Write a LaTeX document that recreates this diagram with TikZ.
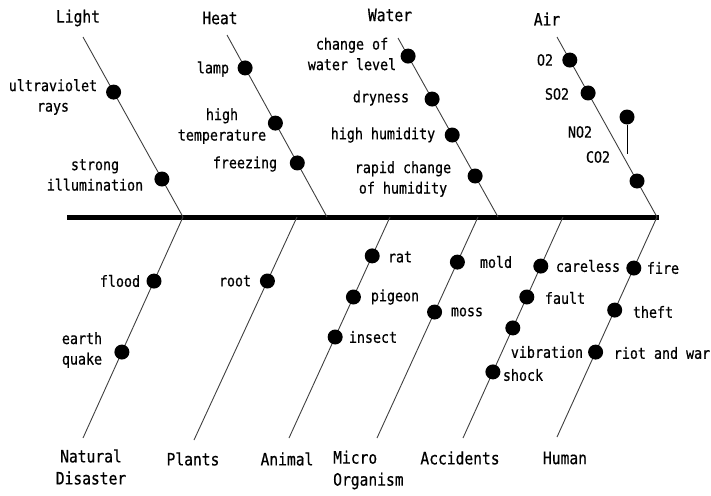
\documentclass[tikz,border=0pt]{standalone}
\usepackage{fontspec}
\newfontfamily\lblfont[FakeStretch=0.86,FakeBold=0.6]{DejaVu Sans Mono}
\usetikzlibrary{calc}
\begin{document}
\begin{tikzpicture}[x=1pt,y=-1pt,
  bone/.style={draw=black!75, line width=0.9pt},
  spine/.style={draw=black, line width=5pt},
  dot/.style={circle, fill=black, inner sep=0pt, minimum size=15pt},
  lbl/.style={font=\lblfont\fontsize{15.5}{20.5}\selectfont, inner sep=0pt, align=center},
  cat/.style={font=\lblfont\fontsize{17}{22}\selectfont, inner sep=0pt, align=center},
]
\useasboundingbox (0,0) rectangle (711,495);
% spine
\coordinate (sL) at (67,217); \coordinate (sR) at (659,217);
\draw[spine] (sL) -- (sR);
% upper bones
\coordinate (lightT) at (83,37);  \coordinate (lightB) at (183,217);
\coordinate (heatT) at (227,35);  \coordinate (heatB) at (327,217);
\coordinate (waterT) at (398,38); \coordinate (waterB) at (498,217);
\coordinate (airT) at (557,37);   \coordinate (airB) at (657,217);
\draw[bone] (lightT) -- (lightB);
\draw[bone] (heatT) -- (heatB);
\draw[bone] (waterT) -- (waterB);
\draw[bone] (airT) -- (airB);
% lower bones
\coordinate (ndT) at (183,217); \coordinate (ndB) at (83,438);
\coordinate (plT) at (297,217); \coordinate (plB) at (194,440);
\coordinate (anT) at (390,217); \coordinate (anB) at (289,438);
\coordinate (miT) at (478,217); \coordinate (miB) at (377,438);
\coordinate (acT) at (563,217); \coordinate (acB) at (463,438);
\coordinate (huT) at (657,217); \coordinate (huB) at (557,437);
\draw[bone] (ndT) -- (ndB);
\draw[bone] (plT) -- (plB);
\draw[bone] (anT) -- (anB);
\draw[bone] (miT) -- (miB);
\draw[bone] (acT) -- (acB);
\draw[bone] (huT) -- (huB);
% category labels
\node[cat] (light) at (78,18) {Light};
\node[cat] (heat) at (220,18) {Heat};
\node[cat] (water) at (390,15) {Water};
\node[cat] (air) at (547,19) {Air};
\node[cat] (natural) at (91,467) {Natural\\Disaster};
\node[cat] (plants) at (193,459) {Plants};
\node[cat] (animal) at (287,459) {Animal};
\node[cat, align=left, anchor=west] (micro) at (333,470) {Micro\\Organism};
\node[cat] (accidents) at (460,458) {Accidents};
\node[cat] (human) at (565,458) {Human};
% light
\node[dot] (d-uv) at ($(lightT)!.306!(lightB)$) {};
\node[dot] (d-si) at ($(lightT)!.789!(lightB)$) {};
\node[lbl] (l-uv) at (53,97) {ultraviolet\\rays};
\node[lbl] (l-si) at (95,175) {strong\\illumination};
% heat
\node[dot] (d-lamp) at ($(heatT)!.181!(heatB)$) {};
\node[dot] (d-ht) at ($(heatT)!.484!(heatB)$) {};
\node[dot] (d-fr) at ($(heatT)!.703!(heatB)$) {};
\node[lbl] (l-lamp) at (213,69) {lamp};
\node[lbl] (l-ht) at (222,126) {high\\temperature};
\node[lbl] (l-fr) at (245,164) {freezing};
% water
\node[dot] (d-cw) at ($(waterT)!.101!(waterB)$) {};
\node[dot] (d-dr) at ($(waterT)!.341!(waterB)$) {};
\node[dot] (d-hh) at ($(waterT)!.542!(waterB)$) {};
\node[dot] (d-rc) at ($(waterT)!.771!(waterB)$) {};
\node[lbl] (l-cw) at (352,54) {change of\\water level};
\node[lbl] (l-dr) at (381,98) {dryness};
\node[lbl] (l-hh) at (383,135) {high humidity};
\node[lbl] (l-rc) at (403,179) {rapid change\\of humidity};
% air
\node[dot] (d-o2) at ($(airT)!.128!(airB)$) {};
\node[dot] (d-so2) at ($(airT)!.311!(airB)$) {};
\node[dot] (d-co2) at ($(airT)!.8!(airB)$) {};
\node[dot] (d-no2) at (627,117) {};
\coordinate (no2e) at (627,154);
\draw[black, line width=1pt] (d-no2) -- (no2e);
\node[lbl] (l-o2) at (545,60) {O2};
\node[lbl] (l-so2) at (557,94) {SO2};
\node[lbl] (l-no2) at (580,132) {NO2};
\node[lbl] (l-co2) at (598,157) {CO2};
% natural disaster
\node[dot] (d-fl) at ($(ndT)!.29!(ndB)$) {};
\node[dot] (d-eq) at ($(ndT)!.611!(ndB)$) {};
\node[lbl] (l-fl) at (120,281) {flood};
\node[lbl] (l-eq) at (82,350) {earth\\quake};
% plants
\node[dot] (d-root) at ($(plT)!.287!(plB)$) {};
\node[lbl] (l-root) at (235,281) {root};
% animal
\node[dot] (d-rat) at ($(anT)!.176!(anB)$) {};
\node[dot] (d-pg) at ($(anT)!.362!(anB)$) {};
\node[dot] (d-in) at ($(anT)!.543!(anB)$) {};
\node[lbl] (l-rat) at (400,257) {rat};
\node[lbl] (l-pg) at (395,297) {pigeon};
\node[lbl] (l-in) at (373,337) {insect};
% micro organism
\node[dot] (d-mold) at ($(miT)!.204!(miB)$) {};
\node[dot] (d-moss) at ($(miT)!.43!(miB)$) {};
\node[lbl] (l-mold) at (496,262) {mold};
\node[lbl] (l-moss) at (467,312) {moss};
% accidents
\node[dot] (d-ca) at ($(acT)!.222!(acB)$) {};
\node[dot] (d-fa) at ($(acT)!.362!(acB)$) {};
\node[dot] (d-vi) at ($(acT)!.502!(acB)$) {};
\node[dot] (d-sh) at ($(acT)!.701!(acB)$) {};
\node[lbl] (l-ca) at (588,266) {careless};
\node[lbl] (l-fa) at (565,298) {fault};
\node[lbl] (l-vi) at (547,352) {vibration};
\node[lbl] (l-sh) at (523,375) {shock};
% human
\node[dot] (d-fire) at ($(huT)!.232!(huB)$) {};
\node[dot] (d-th) at ($(huT)!.423!(huB)$) {};
\node[dot] (d-ri) at ($(huT)!.614!(huB)$) {};
\node[lbl] (l-fire) at (663,268) {fire};
\node[lbl] (l-th) at (653,312) {theft};
\node[lbl] (l-ri) at (662,353) {riot and war};
\end{tikzpicture}
\end{document}
